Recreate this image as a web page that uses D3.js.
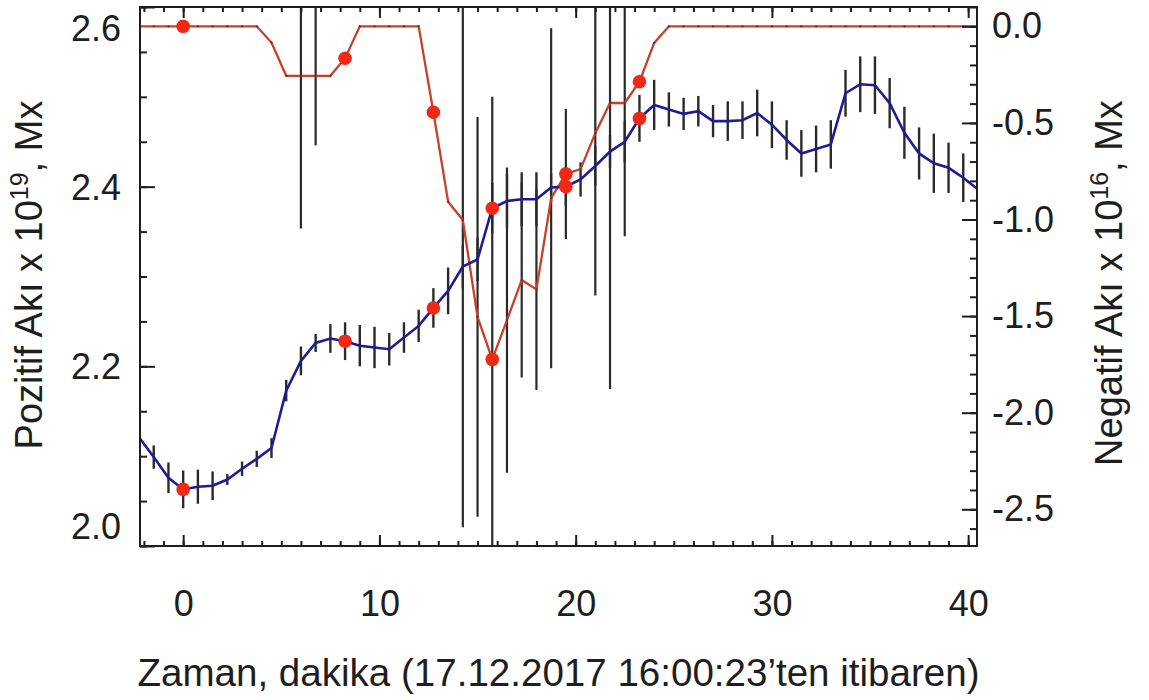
<!DOCTYPE html>
<html><head><meta charset="utf-8">
<script src="https://cdn.jsdelivr.net/npm/d3@7"></script>
<style>
body{margin:0;background:#fff}
svg{display:block}
text{font-family:"Liberation Sans",Arial,Helvetica,sans-serif;fill:#1e1e1e}
</style>
</head><body>
<svg id="c" width="1149" height="700"></svg>
<script>
// ---- data (minutes from 17.12.2017 16:00:23) ----
const times = [-2.25,-1.5,-0.75,0,0.75,1.5,2.25,3,3.75,4.5,5.25,6,6.75,7.5,8.25,9,9.75,10.5,11.25,12,
  12.75,13.5,14.25,15,15.75,16.5,17.25,18,18.75,19.5,20.25,21,21.75,22.5,23.25,24,24.75,25.5,26.25,27,
  27.75,28.5,29.25,30,30.75,31.5,32.25,33,33.75,34.5,35.25,36,36.75,37.5,38.25,39,39.75,40.5];
// positive flux (x 10^19 Mx)
const posFlux = [2.121,2.099,2.076,2.063,2.066,2.067,2.074,2.086,2.097,2.109,2.173,2.206,2.226,2.231,2.228,2.223,2.221,2.219,2.232,2.245,
  2.265,2.284,2.311,2.319,2.376,2.384,2.386,2.386,2.399,2.400,2.408,2.423,2.439,2.450,2.476,2.491,2.486,2.481,2.484,2.473,
  2.473,2.474,2.482,2.469,2.452,2.437,2.442,2.447,2.504,2.514,2.513,2.493,2.460,2.437,2.426,2.421,2.410,2.397];
const posErr = [0.013,0.013,0.017,0.021,0.019,0.016,0.006,0.008,0.009,0.011,0.012,0.016,0.010,0.016,0.021,0.023,0.023,0.018,0.017,0.018,
  0.022,0.026,0.024,0.024,0.028,0.030,0.030,0.030,0.016,0.022,0.019,0.022,0.018,0.023,0.026,0.028,0.019,0.018,0.017,0.018,
  0.022,0.021,0.026,0.026,0.022,0.026,0.026,0.027,0.026,0.031,0.032,0.028,0.029,0.029,0.033,0.028,0.027,0.028];
// negative flux (x 10^16 Mx)
const negFlux = [0,0,0,0,0,0,0,0,0,-0.084,-0.256,-0.256,-0.256,-0.256,-0.165,0,0,0,0,0,
  -0.445,-0.908,-1.003,-1.504,-1.724,-1.521,-1.313,-1.362,-0.89,-0.764,-0.739,-0.553,-0.397,-0.397,-0.287,-0.086,0,0,0,0,
  0,0,0,0,0,0,0,0,0,0,0,0,0,0,0,0,0,0];
const negErr = [0,0,0,0,0,0,0,0,0,0,0,0.79,0.36,0,0,0,0,0,0,0,
  0,0,1.59,1.035,1.36,0.79,0.505,0.52,0.88,0.337,0,0.84,1.48,0.69,0,0,0,0,0,0,
  0,0,0,0,0,0,0,0,0,0,0,0,0,0,0,0,0,0];
const markTimes = [0, 8.25, 12.75, 15.75, 19.5, 23.25];
const xTicks = [0,10,20,30,40];
const yLeftTicks = [2.0,2.2,2.4,2.6];
const yRightTicks = [0.0,-0.5,-1.0,-1.5,-2.0,-2.5];

// ---- layout ----
const L = 140, R = 977, T = 7, B = 546;
const svg = d3.select("#c");
const x = d3.scaleLinear().domain([-2.2, 40.45]).range([L, R]);
const yL = d3.scaleLinear().domain([2.0, 2.6]).range([B, T]);
const yR = d3.scaleLinear().domain([-2.69, 0.10]).range([B, T]);
const fmt1 = d => d.toFixed(1);

const pos = times.map((t,i)=>({t, v:posFlux[i], e:posErr[i]}));
const neg = times.map((t,i)=>({t, v:negFlux[i], e:negErr[i]}));

svg.append("defs").append("clipPath").attr("id","clip")
  .append("rect").attr("x",L).attr("y",T).attr("width",R-L).attr("height",B-T);

const g = svg.append("g").attr("clip-path","url(#clip)");

// error bars
g.append("g").selectAll("line").data(neg.filter(d=>d.e>0)).join("line")
  .attr("x1",d=>x(d.t)).attr("x2",d=>x(d.t))
  .attr("y1",d=>yR(d.v+d.e)).attr("y2",d=>yR(d.v-d.e))
  .attr("stroke","#2a2a2a").attr("stroke-width",2.2);
g.append("g").selectAll("line").data(pos).join("line")
  .attr("x1",d=>x(d.t)).attr("x2",d=>x(d.t))
  .attr("y1",d=>yL(d.v+d.e)).attr("y2",d=>yL(d.v-d.e))
  .attr("stroke","#2a2a2a").attr("stroke-width",2.4);

// lines
g.append("path").datum(neg).attr("fill","none").attr("stroke","#c8402a").attr("stroke-width",2.3)
  .attr("d", d3.line().x(d=>x(d.t)).y(d=>yR(d.v)));
g.append("g").selectAll("circle").data(neg).join("circle")
  .attr("cx",d=>x(d.t)).attr("cy",d=>yR(d.v)).attr("r",1.1).attr("fill","#6a2a20");
g.append("path").datum(pos).attr("fill","none").attr("stroke","#1c1c94").attr("stroke-width",2.6)
  .attr("d", d3.line().x(d=>x(d.t)).y(d=>yL(d.v)));

// markers
const mk = t => times.indexOf(t);
g.append("g").selectAll("circle").data(markTimes).join("circle")
  .attr("cx",t=>x(t)).attr("cy",t=>yR(negFlux[mk(t)])).attr("r",6.8).attr("fill","#f02814");
g.append("g").selectAll("circle").data(markTimes).join("circle")
  .attr("cx",t=>x(t)).attr("cy",t=>yL(posFlux[mk(t)])).attr("r",6.8).attr("fill","#f02814");

// frame
svg.append("rect").attr("x",L).attr("y",T).attr("width",R-L).attr("height",B-T)
  .attr("fill","none").attr("stroke","#1e1e1e").attr("stroke-width",2);

function styleTicks(sel){ sel.select(".domain").remove(); sel.selectAll("line").attr("stroke","#1e1e1e").attr("stroke-width",2); }

// x ticks (inward, bottom and top)
const xMinor = d3.range(-2, 41, 1);
svg.append("g").attr("transform",`translate(0,${B})`).call(d3.axisTop(x).tickValues(xMinor).tickSize(5).tickFormat("")).call(styleTicks);
svg.append("g").attr("transform",`translate(0,${B})`).call(d3.axisTop(x).tickValues(xTicks).tickSize(11).tickFormat("")).call(styleTicks);
svg.append("g").attr("transform",`translate(0,${T})`).call(d3.axisBottom(x).tickValues(xMinor).tickSize(5).tickFormat("")).call(styleTicks);
svg.append("g").attr("transform",`translate(0,${T})`).call(d3.axisBottom(x).tickValues(xTicks).tickSize(11).tickFormat("")).call(styleTicks);
const xl = svg.append("g").attr("transform",`translate(0,${B})`)
  .call(d3.axisBottom(x).tickValues(xTicks).tickSize(0).tickPadding(44).tickFormat(d3.format("d")));
xl.select(".domain").remove();
xl.selectAll("text").attr("font-size",36).attr("fill","#1e1e1e");

// left y ticks
const yLMinor = d3.range(2.0, 2.6001, 0.05);
svg.append("g").attr("transform",`translate(${L},0)`).call(d3.axisRight(yL).tickValues(yLMinor).tickSize(7).tickFormat("")).call(styleTicks);
svg.append("g").attr("transform",`translate(${L},0)`).call(d3.axisRight(yL).tickValues(yLeftTicks).tickSize(15).tickFormat("")).call(styleTicks);
const yll = svg.append("g").attr("transform",`translate(${L},0)`)
  .call(d3.axisLeft(yL).tickValues(yLeftTicks).tickSize(0).tickPadding(19).tickFormat(fmt1));
yll.select(".domain").remove();
yll.selectAll("text").attr("font-size",36).attr("fill","#1e1e1e")
  .attr("dy", d => d===2.6 ? "0.92em" : d===2.0 ? "-0.22em" : "0.35em");

// right y ticks
const yRMinor = d3.range(-26, 2, 1).map(v=>v/10);
svg.append("g").attr("transform",`translate(${R},0)`).call(d3.axisLeft(yR).tickValues(yRMinor).tickSize(7).tickFormat("")).call(styleTicks);
svg.append("g").attr("transform",`translate(${R},0)`).call(d3.axisLeft(yR).tickValues(yRightTicks).tickSize(15).tickFormat("")).call(styleTicks);
const yrl = svg.append("g").attr("transform",`translate(${R},0)`)
  .call(d3.axisRight(yR).tickValues(yRightTicks).tickSize(0).tickPadding(15).tickFormat(fmt1));
yrl.select(".domain").remove();
yrl.selectAll("text").attr("font-size",36).attr("fill","#1e1e1e");

// titles
svg.append("text").attr("x",(L+R)/2).attr("y",686).attr("text-anchor","middle")
  .attr("font-size",38).attr("textLength",842).attr("lengthAdjust","spacingAndGlyphs")
  .text("Zaman, dakika (17.12.2017 16:00:23’ten itibaren)");

const lt = svg.append("text").attr("transform","translate(42,275) rotate(-90)").attr("text-anchor","middle").attr("font-size",38);
lt.append("tspan").text("Pozitif Akı x 10");
lt.append("tspan").attr("font-size",25).attr("dy",-14).text("19");
lt.append("tspan").attr("dy",14).text(", Mx");

const rt = svg.append("text").attr("transform","translate(1122,283) rotate(-90)").attr("text-anchor","middle").attr("font-size",38);
rt.append("tspan").text("Negatif Akı x 10");
rt.append("tspan").attr("font-size",25).attr("dy",-14).text("16");
rt.append("tspan").attr("dy",14).text(", Mx");
</script>
</body></html>
